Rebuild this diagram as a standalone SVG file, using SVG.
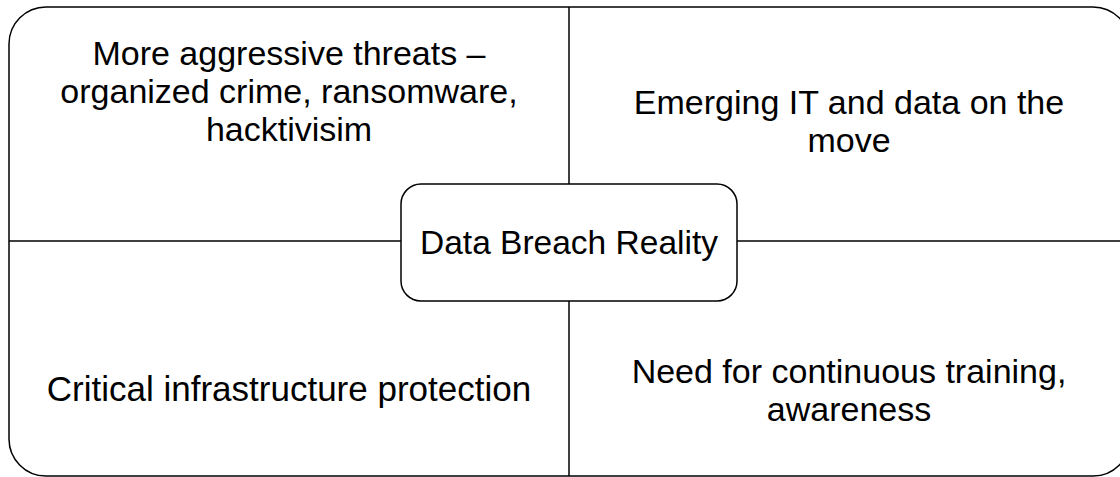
<svg xmlns="http://www.w3.org/2000/svg" width="1120" height="477" viewBox="0 0 1120 477">
<style>
.frame{fill:#fff;stroke:#000;stroke-width:1.5}
.line{stroke:#000;stroke-width:1.5;fill:none}
.box{fill:#fff;stroke:#000;stroke-width:1.5}
text{font-family:"Liberation Sans Narrow","Arial Narrow","Liberation Sans",sans-serif;font-size:34px;fill:#000;text-anchor:middle}
.s{font-size:35px}
.c{font-size:33.5px}
</style>
<rect width="1120" height="477" fill="#fff"/>
<g id="frame"><rect class="frame" x="9" y="7" width="1121" height="469" rx="37" ry="37"/></g>
<g id="connectors">
<line class="line" x1="569" y1="7" x2="569" y2="184"/>
<line class="line" x1="569" y1="301" x2="569" y2="476"/>
<line class="line" x1="9" y1="241" x2="401" y2="241"/>
<line class="line" x1="737" y1="241" x2="1120" y2="241"/>
</g>
<g id="q1"><text x="289" y="65">More aggressive threats –<tspan x="289" dy="38">organized crime, ransomware,</tspan><tspan x="289" dy="38">hacktivisim</tspan></text></g>
<g id="q2"><text x="849" y="114">Emerging IT and data on the<tspan x="849" dy="38">move</tspan></text></g>
<g id="q3"><text class="s" x="289" y="401">Critical infrastructure protection</text></g>
<g id="q4"><text x="849" y="383">Need for continuous training,<tspan x="849" dy="38">awareness</tspan></text></g>
<g id="center"><rect class="box" x="401" y="184" width="336" height="117" rx="20" ry="20"/><text class="c" x="569" y="254">Data Breach Reality</text></g>
</svg>
